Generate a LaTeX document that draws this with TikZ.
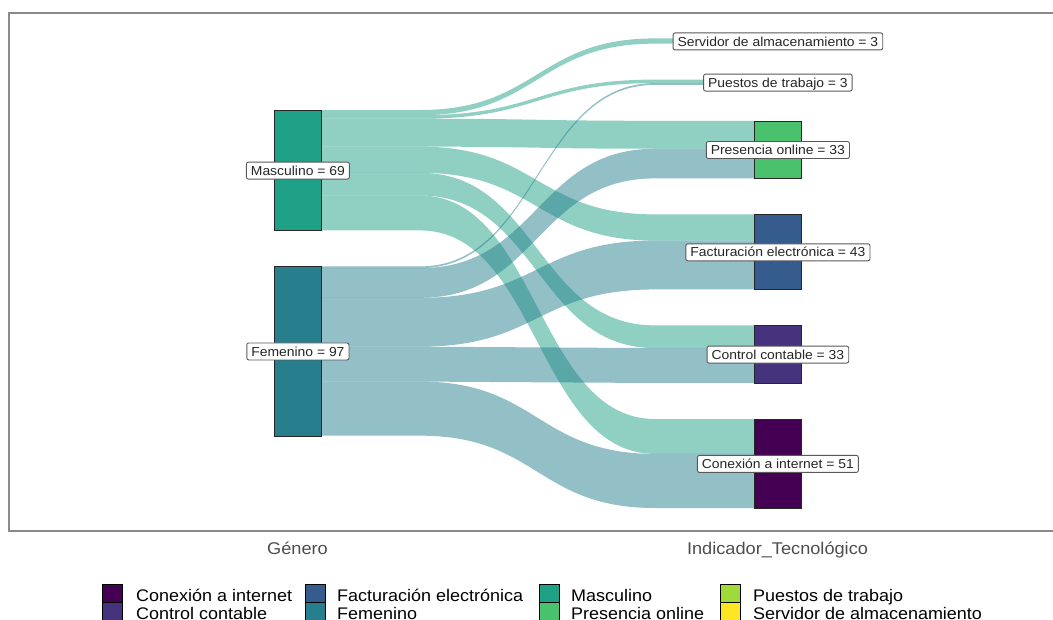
\documentclass[tikz,border=0pt]{standalone}
\usepackage{fontspec}
\setmainfont[FakeStretch=1.07]{Liberation Sans}
\definecolor{vConex}{HTML}{440154}
\definecolor{vControl}{HTML}{46337E}
\definecolor{vFact}{HTML}{365C8D}
\definecolor{vFem}{HTML}{277F8E}
\definecolor{vMasc}{HTML}{1FA187}
\definecolor{vPres}{HTML}{4AC16D}
\definecolor{vPuestos}{HTML}{9FDA3A}
\definecolor{vServ}{HTML}{FDE725}
\definecolor{axisgray}{HTML}{4D4D4D}
\definecolor{framegray}{HTML}{8C8C8C}
\newcommand\flowband[4]{%
  \fill[#1] (321,{#2}) -- (420,{#2}) .. controls (537.5,{#2}) and (537.5,{#3}) .. (655,{#3}) -- (754,{#3})
    -- (754,{#3+#4}) -- (655,{#3+#4}) .. controls (537.5,{#3+#4}) and (537.5,{#2+#4}) .. (420,{#2+#4})
    -- (321,{#2+#4}) -- cycle;}
\tikzset{
  mflow/.style={fill=vMasc, fill opacity=0.5},
  fflow/.style={fill=vFem, fill opacity=0.5},
  stratum/.style={draw=black!85, line width=0.8pt, inner sep=0pt, minimum width=47pt, anchor=north west},
  lbl/.style={draw=black!65, fill=white, rounded corners=2pt, line width=0.9pt, inner xsep=4.5pt, inner ysep=0pt,
    minimum height=17pt, text height=11pt, text depth=1.7pt, text=black!85, font=\fontsize{13}{15}\selectfont},
  axt/.style={text=axisgray, anchor=base, font=\fontsize{17}{19}\selectfont},
  key/.style={draw=black, line width=0.7pt, inner sep=0pt, minimum width=20pt, minimum height=18pt, anchor=north west},
  legt/.style={anchor=base west, inner sep=0pt, font=\fontsize{16.8}{18}\selectfont}
}
\begin{document}
\begin{tikzpicture}[x=1pt, y=-1pt]
\useasboundingbox (0,0) rectangle (1053,619);
% panel frame
\draw[framegray, line width=1.8pt] (1060,13.3) -- (8.8,13.3) -- (8.8,531) -- (1060,531);
% flows (Masculino)
\flowband{mflow}{110}{38.4}{5.235}
\flowband{mflow}{115.235}{79.6}{3.49}
\flowband{mflow}{118.725}{120.8}{27.92}
\flowband{mflow}{146.645}{214.4}{26.175}
\flowband{mflow}{172.82}{325.4}{22.685}
\flowband{mflow}{195.505}{419.0}{34.9}
% flows (Femenino)
\flowband{fflow}{266.4}{83.09}{1.745}
\flowband{fflow}{268.145}{148.72}{29.665}
\flowband{fflow}{297.81}{240.575}{48.86}
\flowband{fflow}{346.67}{348.085}{34.9}
\flowband{fflow}{381.57}{453.9}{54.095}
% strata
\node[stratum, fill=vMasc, minimum height=120.4pt] (masc) at (274,110) {};
\node[stratum, fill=vFem, minimum height=169.3pt] (fem) at (274,266.4) {};
\node[stratum, fill=vServ, minimum height=5.2pt] (serv) at (754,38.4) {};
\node[stratum, fill=vPuestos, minimum height=5.2pt] (puestos) at (754,79.6) {};
\node[stratum, fill=vPres, minimum height=57.6pt] (pres) at (754,120.8) {};
\node[stratum, fill=vFact, minimum height=75pt] (fact) at (754,214.4) {};
\node[stratum, fill=vControl, minimum height=57.6pt] (control) at (754,325.4) {};
\node[stratum, fill=vConex, minimum height=89pt] (conex) at (754,419) {};
% labels
\node[lbl] (mascL) at (masc.center) {Masculino = 69};
\node[lbl] (femL) at (fem.center) {Femenino = 97};
\node[lbl] (servL) at (serv.center) {Servidor de almacenamiento = 3};
\node[lbl] (puestosL) at (puestos.center) {Puestos de trabajo = 3};
\node[lbl] (presL) at (pres.center) {Presencia online = 33};
\node[lbl] (factL) at (fact.center) {Facturación electrónica = 43};
\node[lbl] (controlL) at (control.center) {Control contable = 33};
\node[lbl] (conexL) at (conex.center) {Conexión a internet = 51};
% axis titles
\node[axt] (ax1) at (297.5,554) {Género};
\node[axt] (ax2) at (777.5,554) {Indicador\_Tecnológico};
% legend
\node[key, fill=vConex] (k1) at (102,584.3) {};
\node[key, fill=vControl] (k2) at (102,602.3) {};
\node[legt] (t1) at (136,601) {Conexión a internet};
\node[legt] (t2) at (136,619) {Control contable};
\node[key, fill=vFact] (k3) at (305,584.3) {};
\node[key, fill=vFem] (k4) at (305,602.3) {};
\node[legt] (t3) at (337,601) {Facturación electrónica};
\node[legt] (t4) at (337,619) {Femenino};
\node[key, fill=vMasc] (k5) at (539,584.3) {};
\node[key, fill=vPres] (k6) at (539,602.3) {};
\node[legt] (t5) at (571,601) {Masculino};
\node[legt] (t6) at (571,619) {Presencia online};
\node[key, fill=vPuestos] (k7) at (720,584.3) {};
\node[key, fill=vServ] (k8) at (720,602.3) {};
\node[legt] (t7) at (753,601) {Puestos de trabajo};
\node[legt] (t8) at (753,619) {Servidor de almacenamiento};
\end{tikzpicture}
\end{document}
